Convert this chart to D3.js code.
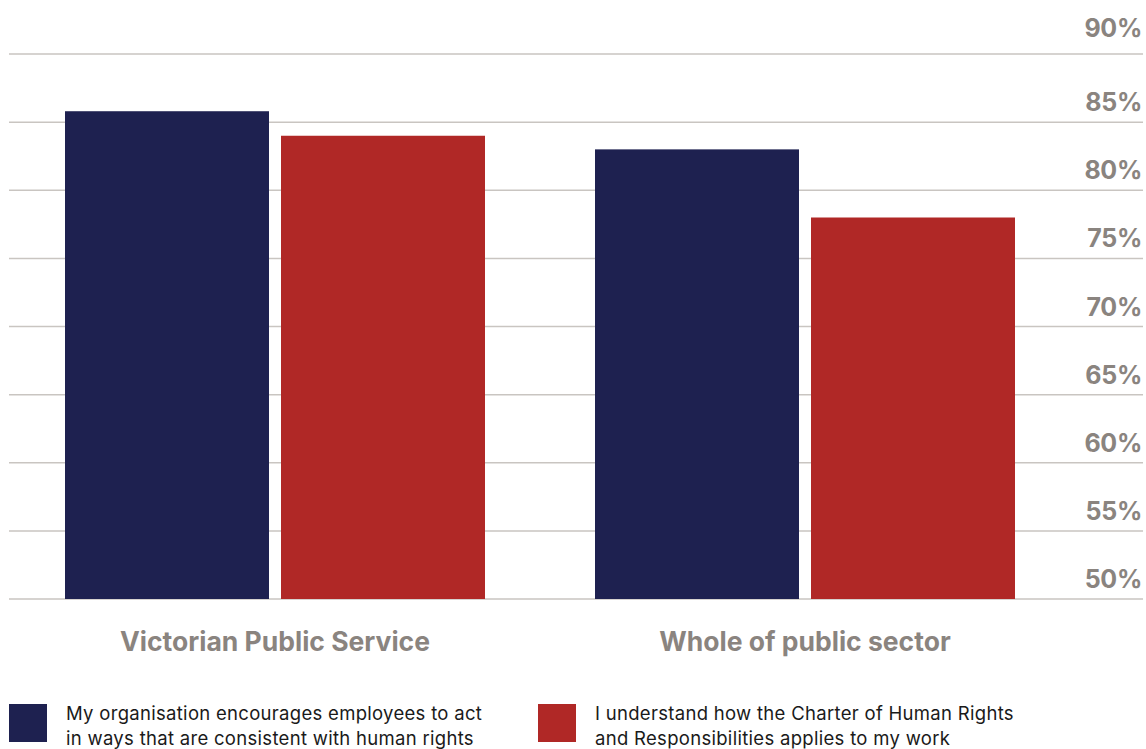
<!DOCTYPE html>
<html>
<head>
<meta charset="utf-8">
<script src="https://cdn.jsdelivr.net/npm/d3@7"></script>
<style>
  html, body { margin: 0; padding: 0; background: #fff; }
  svg { display: block; }
</style>
</head>
<body>
<svg id="chart" width="1146" height="749"></svg>
<script>
const categories = ["Victorian Public Service", "Whole of public sector"];
const seriesNames = [
  "My organisation encourages employees to act in ways that are consistent with human rights",
  "I understand how the Charter of Human Rights and Responsibilities applies to my work"
];
const seriesLegendLines = [
  ["My organisation encourages employees to act", "in ways that are consistent with human rights"],
  ["I understand how the Charter of Human Rights", "and Responsibilities applies to my work"]
];
const encouragesValues = [85.8, 83];
const understandValues = [84, 78];
const tickValues = [50, 55, 60, 65, 70, 75, 80, 85, 90];
const colors = ["#1e2150", "#b02826"];

const svg = d3.select("#chart");
const font = "Inter, 'Noto Sans', sans-serif";
const gray = "#8a847f";

const y = d3.scaleLinear().domain([50, 90]).range([599, 54]);
const x0 = d3.scaleBand().domain(categories).range([10, 1070])
  .paddingInner(110 / 530).paddingOuter(55 / 530);
const x1 = d3.scaleBand().domain([0, 1]).range([0, x0.bandwidth()])
  .paddingInner(12 / 216).paddingOuter(0);

// gridlines
svg.append("g").selectAll("line").data(tickValues).join("line")
  .attr("x1", 9).attr("x2", 1143)
  .attr("y1", d => y(d)).attr("y2", d => y(d))
  .attr("stroke", "#c9c5c1").attr("stroke-width", 1.5);

// tick labels (top label sits a little higher in the original)
svg.append("g").selectAll("text").data(tickValues).join("text")
  .attr("x", 1142).attr("y", (d, i) => y(d) - (i === tickValues.length - 1 ? 17 : 11))
  .attr("text-anchor", "end")
  .attr("font-family", font).attr("font-weight", 700).attr("font-size", 25)
  .attr("letter-spacing", -0.3)
  .attr("fill", gray)
  .text(d => d + "%");

// bars
const data = categories.map((c, i) => ({ cat: c, vals: [encouragesValues[i], understandValues[i]] }));
const groups = svg.append("g").selectAll("g").data(data).join("g")
  .attr("transform", d => `translate(${x0(d.cat)},0)`);
groups.selectAll("rect").data(d => d.vals.map((v, j) => ({ v, j }))).join("rect")
  .attr("x", d => x1(d.j)).attr("width", x1.bandwidth())
  .attr("y", d => y(d.v)).attr("height", d => y(50) - y(d.v))
  .attr("fill", d => colors[d.j]);

// category labels
svg.append("g").selectAll("text").data(categories).join("text")
  .attr("x", d => x0(d) + x0.bandwidth() / 2).attr("y", 651)
  .attr("text-anchor", "middle")
  .attr("font-family", font).attr("font-weight", 700).attr("font-size", 26.5)
  .attr("fill", gray)
  .text(d => d);

// legend
const legendX = [9, 538];
const leg = svg.append("g").selectAll("g").data(seriesNames).join("g")
  .attr("transform", (d, i) => `translate(${legendX[i]},704)`);
leg.append("rect").attr("width", 38).attr("height", 38).attr("fill", (d, i) => colors[i]);
leg.each(function (d, i) {
  const t = d3.select(this).append("text")
    .attr("font-family", font).attr("font-size", 18.5).attr("letter-spacing", 0.3)
    .attr("fill", "#1a1a1a");
  seriesLegendLines[i].forEach((line, k) => {
    t.append("tspan").attr("x", 57).attr("y", 16 + k * 25).text(line);
  });
});
</script>
</body>
</html>
